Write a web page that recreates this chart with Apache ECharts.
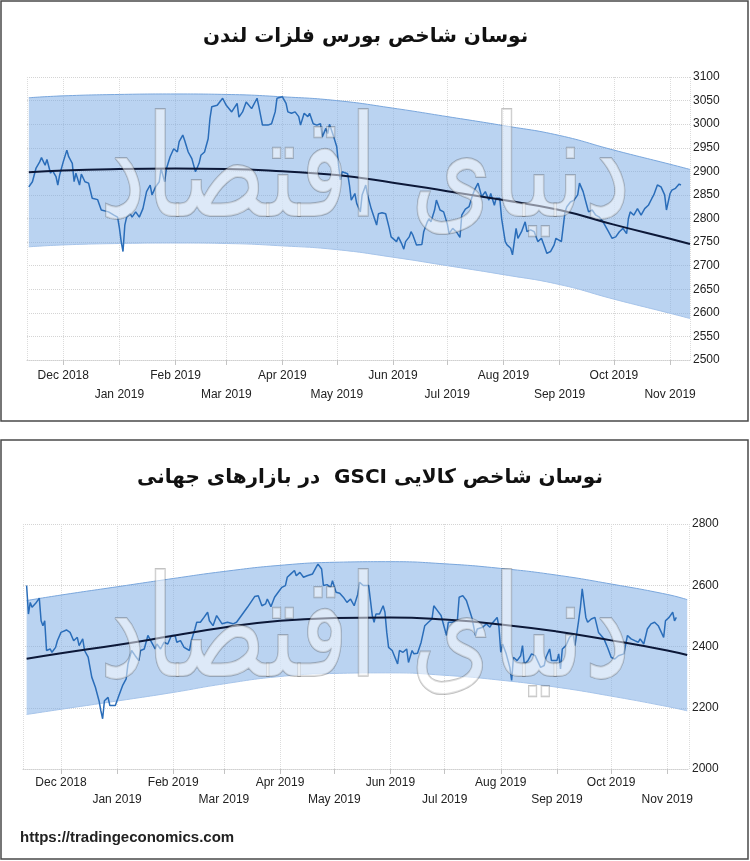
<!DOCTYPE html>
<html>
<head>
<meta charset="utf-8">
<title>نوسان شاخص بورس فلزات لندن و GSCI</title>
<script src="https://cdn.jsdelivr.net/npm/echarts@6/dist/echarts.min.js"></script>
<style>
html,body{margin:0;padding:0;background:#fff;}
#main{width:750px;height:861px;}
</style>
</head>
<body>
<div id="main"></div>
<script>
// LME index, daily readings
const metalsDates = [
'2018-11-12','2018-11-14','2018-11-16','2018-11-18','2018-11-19','2018-11-21','2018-11-22','2018-11-24','2018-11-25','2018-11-27',
'2018-11-28','2018-11-29','2018-12-01','2018-12-03','2018-12-04','2018-12-06','2018-12-07','2018-12-08','2018-12-10','2018-12-11',
'2018-12-13','2018-12-15','2018-12-17','2018-12-20','2018-12-22','2018-12-26','2018-12-29','2018-12-31','2019-01-01','2019-01-02',
'2019-01-03','2019-01-04','2019-01-05','2019-01-07','2019-01-08','2019-01-10','2019-01-12','2019-01-14','2019-01-16','2019-01-18',
'2019-01-19','2019-01-21','2019-01-23','2019-01-24','2019-01-26','2019-01-27','2019-01-29','2019-01-31','2019-02-02','2019-02-03',
'2019-02-05','2019-02-06','2019-02-08','2019-02-10','2019-02-12','2019-02-14','2019-02-15','2019-02-17','2019-02-19','2019-02-20',
'2019-02-21','2019-02-24','2019-02-27','2019-03-01','2019-03-04','2019-03-07','2019-03-08','2019-03-10','2019-03-12','2019-03-15',
'2019-03-18','2019-03-19','2019-03-21','2019-03-24','2019-03-26','2019-03-28','2019-03-29','2019-04-01','2019-04-03','2019-04-04',
'2019-04-06','2019-04-08','2019-04-10','2019-04-11','2019-04-13','2019-04-15','2019-04-16','2019-04-18','2019-04-20','2019-04-22',
'2019-04-23','2019-04-25','2019-04-26','2019-04-27','2019-04-29','2019-05-01','2019-05-02','2019-05-03','2019-05-04','2019-05-05',
'2019-05-07','2019-05-08','2019-05-09','2019-05-11','2019-05-12','2019-05-14','2019-05-15','2019-05-17','2019-05-18','2019-05-20',
'2019-05-21','2019-05-23','2019-05-24','2019-05-26','2019-05-28','2019-05-30','2019-05-31','2019-06-03','2019-06-04','2019-06-06',
'2019-06-07','2019-06-08','2019-06-10','2019-06-11','2019-06-12','2019-06-14','2019-06-17','2019-06-18','2019-06-20','2019-06-21',
'2019-06-22','2019-06-24','2019-06-25','2019-06-27','2019-06-29','2019-07-01','2019-07-02','2019-07-04','2019-07-06','2019-07-08',
'2019-07-09','2019-07-11','2019-07-13','2019-07-15','2019-07-16','2019-07-18','2019-07-20','2019-07-22','2019-07-24','2019-07-25',
'2019-07-27','2019-07-28','2019-07-30','2019-07-31','2019-08-02','2019-08-03','2019-08-05','2019-08-06','2019-08-08','2019-08-09',
'2019-08-11','2019-08-13','2019-08-14','2019-08-16','2019-08-18','2019-08-20','2019-08-22','2019-08-24','2019-08-25','2019-08-27',
'2019-08-29','2019-08-30','2019-09-02','2019-09-04','2019-09-05','2019-09-07','2019-09-09','2019-09-11','2019-09-12','2019-09-14',
'2019-09-16','2019-09-17','2019-09-19','2019-09-21','2019-09-23','2019-09-25','2019-09-27','2019-09-28','2019-09-30','2019-10-02',
'2019-10-04','2019-10-06','2019-10-08','2019-10-09','2019-10-10','2019-10-12','2019-10-14','2019-10-16','2019-10-18','2019-10-20',
'2019-10-22','2019-10-23','2019-10-25','2019-10-27','2019-10-29','2019-10-30','2019-11-01','2019-11-02','2019-11-04','2019-11-06',
'2019-11-07'
];
const metalsValues = [
2867,2878,2907,2920,2929,2913,2925,2896,2902,2889,
2871,2892,2920,2945,2931,2917,2878,2896,2871,2894,
2878,2875,2843,2840,2818,2814,2807,2803,2780,2751,
2730,2786,2803,2810,2803,2814,2803,2821,2857,2871,
2850,2867,2878,2906,2878,2906,2931,2948,2941,2963,
2977,2966,2941,2927,2899,2917,2934,2941,2969,3012,
3037,3040,3055,3040,3026,3044,3015,3026,3047,3033,
3055,3037,2998,2998,3001,3026,3055,3058,3044,3026,
3023,3026,3016,2998,3023,3016,3023,3001,2998,3001,
2973,2991,2980,3000,2977,2952,2913,2882,2899,2899,
2895,2871,2839,2853,2832,2814,2850,2871,2850,2821,
2818,2786,2810,2812,2810,2779,2761,2751,2761,2745,
2735,2751,2761,2772,2765,2744,2745,2772,2793,2800,
2793,2818,2839,2818,2814,2789,2768,2779,2772,2760,
2807,2820,2825,2850,2860,2875,2846,2857,2839,2853,
2828,2843,2843,2800,2751,2744,2737,2723,2779,2758,
2772,2793,2772,2776,2772,2751,2758,2737,2726,2730,
2744,2758,2751,2814,2825,2835,2839,2850,2875,2857,
2828,2814,2818,2807,2803,2793,2779,2772,2758,2761,
2772,2779,2768,2800,2814,2807,2821,2807,2821,2828,
2843,2850,2871,2867,2850,2818,2853,2860,2864,2873,
2871
];

// GSCI index, daily readings
const gsciDates = [
'2018-11-12','2018-11-13','2018-11-14','2018-11-15','2018-11-17','2018-11-19','2018-11-20','2018-11-21','2018-11-22','2018-11-23',
'2018-11-25','2018-11-26','2018-11-28','2018-11-29','2018-12-01','2018-12-04','2018-12-06','2018-12-08','2018-12-10','2018-12-11',
'2018-12-13','2018-12-14','2018-12-16','2018-12-18','2018-12-20','2018-12-22','2018-12-23','2018-12-24','2018-12-25','2018-12-27',
'2018-12-28','2018-12-31','2019-01-02','2019-01-04','2019-01-06','2019-01-07','2019-01-09','2019-01-11','2019-01-13','2019-01-14',
'2019-01-16','2019-01-18','2019-01-20','2019-01-22','2019-01-23','2019-01-25','2019-01-27','2019-01-29','2019-01-31','2019-02-02',
'2019-02-03','2019-02-05','2019-02-07','2019-02-10','2019-02-11','2019-02-13','2019-02-14','2019-02-16','2019-02-18','2019-02-20',
'2019-02-21','2019-02-23','2019-02-25','2019-02-28','2019-03-03','2019-03-06','2019-03-08','2019-03-12','2019-03-14','2019-03-15',
'2019-03-18','2019-03-20','2019-03-22','2019-03-24','2019-03-25','2019-03-27','2019-03-29','2019-03-31','2019-04-02','2019-04-04',
'2019-04-05','2019-04-07','2019-04-09','2019-04-10','2019-04-12','2019-04-14','2019-04-16','2019-04-17','2019-04-19','2019-04-21',
'2019-04-22','2019-04-24','2019-04-25','2019-04-27','2019-04-29','2019-04-30','2019-05-02','2019-05-04','2019-05-06','2019-05-08',
'2019-05-10','2019-05-12','2019-05-14','2019-05-15','2019-05-17','2019-05-20','2019-05-21','2019-05-22','2019-05-23','2019-05-24',
'2019-05-26','2019-05-28','2019-05-29','2019-05-30','2019-05-31','2019-06-02','2019-06-03','2019-06-05','2019-06-06','2019-06-08',
'2019-06-10','2019-06-11','2019-06-13','2019-06-14','2019-06-16','2019-06-18','2019-06-19','2019-06-20','2019-06-22','2019-06-24',
'2019-06-25','2019-06-27','2019-06-29','2019-06-30','2019-07-02','2019-07-03','2019-07-05','2019-07-06','2019-07-08','2019-07-09',
'2019-07-11','2019-07-13','2019-07-16','2019-07-18','2019-07-19','2019-07-22','2019-07-24','2019-07-26','2019-07-27','2019-07-30',
'2019-07-31','2019-08-01','2019-08-02','2019-08-04','2019-08-06','2019-08-07','2019-08-08','2019-08-10','2019-08-12','2019-08-13',
'2019-08-14','2019-08-16','2019-08-18','2019-08-20','2019-08-21','2019-08-23','2019-08-25','2019-08-26','2019-08-28','2019-08-29',
'2019-09-01','2019-09-02','2019-09-03','2019-09-04','2019-09-06','2019-09-08','2019-09-10','2019-09-11','2019-09-13','2019-09-14',
'2019-09-15','2019-09-17','2019-09-18','2019-09-20','2019-09-22','2019-09-24','2019-09-25','2019-09-27','2019-09-29','2019-10-01',
'2019-10-03','2019-10-05','2019-10-06','2019-10-08','2019-10-10','2019-10-12','2019-10-14','2019-10-16','2019-10-17','2019-10-19',
'2019-10-21','2019-10-23','2019-10-25','2019-10-27','2019-10-28','2019-10-30','2019-10-31','2019-11-02','2019-11-04','2019-11-05',
'2019-11-06'
];
const gsciValues = [
2599,2506,2544,2528,2541,2558,2484,2468,2484,2387,
2392,2381,2397,2419,2446,2454,2446,2419,2430,2403,
2425,2387,2365,2300,2267,2223,2191,2164,2223,2234,
2207,2207,2240,2272,2294,2343,2387,2370,2354,2387,
2392,2436,2414,2392,2408,2392,2414,2408,2436,2436,
2414,2419,2397,2387,2419,2457,2479,2479,2495,2512,
2484,2468,2501,2474,2479,2474,2479,2512,2528,2533,
2563,2566,2533,2539,2555,2530,2561,2577,2593,2599,
2626,2637,2648,2631,2642,2626,2631,2626,2637,2659,
2669,2653,2599,2602,2593,2615,2577,2574,2561,2544,
2555,2533,2571,2610,2599,2599,2550,2501,2479,2506,
2506,2533,2512,2446,2397,2387,2381,2343,2387,2381,
2392,2348,2387,2376,2378,2414,2414,2468,2479,2490,
2533,2517,2501,2501,2436,2479,2479,2484,2484,2561,
2566,2550,2495,2436,2457,2463,2474,2463,2474,2495,
2463,2381,2408,2376,2332,2289,2365,2354,2370,2403,
2343,2354,2376,2370,2376,2332,2338,2365,2392,2354,
2354,2376,2327,2392,2403,2430,2441,2403,2484,2528,
2588,2495,2479,2490,2495,2446,2441,2425,2397,2365,
2359,2370,2376,2376,2436,2425,2419,2414,2425,2408,
2457,2474,2479,2468,2463,2430,2484,2495,2512,2484,
2495
];

// regression curve and channel, read at month starts
const trendDates = ['2018-11-12','2018-12-01','2019-01-01','2019-02-01','2019-03-01','2019-04-01','2019-05-01',
                    '2019-06-01','2019-07-01','2019-08-01','2019-09-01','2019-10-01','2019-11-01','2019-11-12'];
const metalsTrend = [2898,2902,2905,2906,2905,2900,2892,2876,2858,2839,2818,2787,2757,2746];
const metalsUpper = [3056,3060,3063,3064,3063,3058,3050,3034,3016,2997,2976,2945,2915,2904];
const metalsLower = [2740,2744,2747,2748,2747,2742,2734,2718,2700,2681,2660,2629,2599,2588];
const gsciTrend = [2360,2378,2405,2435,2462,2484,2493,2495,2488,2472,2449,2420,2387,2372];
const gsciUpper = [2550,2568,2595,2622,2645,2665,2675,2677,2670,2655,2633,2604,2570,2553];
const gsciLower = [2178,2195,2222,2250,2278,2302,2312,2314,2306,2290,2267,2238,2204,2190];

const monthNames = ['Jan','Feb','Mar','Apr','May','Jun','Jul','Aug','Sep','Oct','Nov','Dec'];
const titles = ['نوسان شاخص بورس فلزات لندن', 'نوسان شاخص کالایی GSCI  در بازارهای جهانی'];
const sourceText = 'https://tradingeconomics.com';
const watermark = 'دنیای اقتصاد';

const DAY = 86400000;
let myChart = echarts.init(document.getElementById('main'));

function pairs(dates, vals) {
    return dates.map(function (d, i) { return [d, vals[i]]; });
}

// right-to-left embedding so the Latin word stays in place
function rtl(text) {
    return '\u202B' + text + '\u202C';
}

function monthLabel(value) {
    let d = new Date(value);
    let m = d.getMonth();
    let text = monthNames[m] + ' ' + d.getFullYear();
    // odd months on the first row, the others one row lower
    return (m % 2 === 1) ? text : '\n' + text;
}

function xAxisFor(idx, min, max, margin, lh) {
    return {
        type: 'time',
        gridIndex: idx,
        min: min,
        max: max,
        minInterval: 28 * DAY,
        maxInterval: 31 * DAY,
        axisLine: {show: true, lineStyle: {color: '#d0d0d0', type: 'dotted'}},
        axisTick: {show: true, length: 5, lineStyle: {color: '#c4c4c4'}},
        splitLine: {show: true, lineStyle: {color: '#dcdcdc', type: 'dotted'}},
        axisLabel: {
            formatter: monthLabel,
            margin: margin,
            lineHeight: lh,
            color: '#222',
            fontSize: 12,
            fontFamily: 'Liberation Sans',
            hideOverlap: false
        }
    };
}

function yAxisFor(idx, min, max, step) {
    return {
        type: 'value',
        gridIndex: idx,
        position: 'right',
        min: min,
        max: max,
        interval: step,
        axisLine: {show: false},
        axisTick: {show: false},
        splitLine: {lineStyle: {color: '#d4d4d4', type: 'dotted'}},
        axisLabel: {
            margin: 3, color: '#222', fontSize: 12, fontFamily: 'Liberation Sans',
            formatter: function (v) { return String(v); }
        }
    };
}

function chartSeries(idx, dates, values, trend, upper, lower) {
    let stackName = 'band' + idx;
    return [{
        type: 'line', xAxisIndex: idx, yAxisIndex: idx, stack: stackName,
        smooth: true, symbol: 'none', silent: true,
        data: pairs(trendDates, lower),
        lineStyle: {color: '#a6c4ea', width: 1}
    }, {
        type: 'line', xAxisIndex: idx, yAxisIndex: idx, stack: stackName,
        smooth: true, symbol: 'none', silent: true,
        data: pairs(trendDates, upper.map(function (u, i) { return u - lower[i]; })),
        lineStyle: {color: '#7aa7dd', width: 1},
        areaStyle: {color: 'rgba(118,168,228,0.5)', opacity: 1}
    }, {
        type: 'line', xAxisIndex: idx, yAxisIndex: idx,
        symbol: 'none', z: 3,
        data: pairs(dates, values),
        lineStyle: {color: '#2a6db9', width: 1.5}
    }, {
        type: 'line', xAxisIndex: idx, yAxisIndex: idx,
        smooth: true, symbol: 'none', z: 4,
        data: pairs(trendDates, trend),
        lineStyle: {color: '#0c1838', width: 2}
    }];
}

function watermarkAt(cx, cy) {
    return {
        type: 'text', x: cx, y: cy, scaleY: 1.35, z: 5, silent: true,
        style: {
            text: watermark, font: 'normal 104px "DejaVu Sans"',
            fill: 'rgba(255,255,255,0.5)', stroke: 'rgba(80,80,80,0.35)', lineWidth: 1.5,
            align: 'center', verticalAlign: 'middle'
        }
    };
}

let option = {
    animation: false,
    backgroundColor: '#fff',
    title: [{
        text: titles[0], left: 198, top: 22,
        textStyle: {fontFamily: 'DejaVu Sans', fontWeight: 'bold', fontSize: 20, color: '#111'}
    }, {
        text: rtl(titles[1]), left: 132, top: 463,
        textStyle: {fontFamily: 'DejaVu Sans', fontWeight: 'bold', fontSize: 20, color: '#111'}
    }],
    grid: [{
        left: 27, right: 60, top: 77, height: 283
    }, {
        left: 23, right: 61, top: 524, height: 245
    }],
    xAxis: [
        xAxisFor(0, '2018-11-11', '2019-11-12', 6, 19),
        xAxisFor(1, '2018-11-10', '2019-11-13', 5, 17)
    ],
    yAxis: [
        yAxisFor(0, 2500, 3100, 50),
        yAxisFor(1, 2000, 2800, 200)
    ],
    series: chartSeries(0, metalsDates, metalsValues, metalsTrend, metalsUpper, metalsLower)
        .concat(chartSeries(1, gsciDates, gsciValues, gsciTrend, gsciUpper, gsciLower)),
    graphic: [{
        type: 'rect', shape: {x: 1, y: 1, width: 747, height: 420},
        style: {fill: 'none', stroke: '#4a4a4a', lineWidth: 1.5}, z: 10
    }, {
        type: 'rect', shape: {x: 1, y: 440, width: 747, height: 419},
        style: {fill: 'none', stroke: '#4a4a4a', lineWidth: 1.5}, z: 10
    },
    watermarkAt(365, 180),
    watermarkAt(365, 640),
    {
        type: 'text', left: 20, top: 830,
        style: {text: sourceText, font: 'bold 15px "Liberation Sans"', fill: '#222'}
    }]
};
myChart.setOption(option);
</script>
</body>
</html>
